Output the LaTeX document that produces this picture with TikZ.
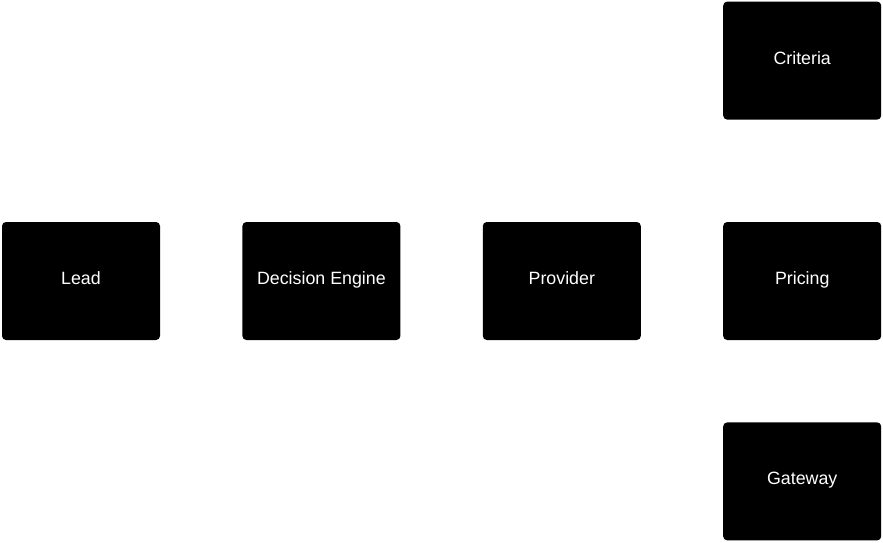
\documentclass[tikz,border=0pt]{standalone}
\usepackage{fontspec}
\setmainfont{Liberation Sans}
\usepackage{tikz}
\usetikzlibrary{positioning}
\definecolor{BoxBlack}{HTML}{000000}
\definecolor{LabelWhite}{HTML}{FFFFFF}

\tikzset{
  stagebox/.style={fill=BoxBlack, rounded corners=4pt,
    minimum width=158pt, minimum height=118pt, inner sep=0pt,
    text height=11pt, text depth=4pt,
    text=LabelWhite, font=\fontsize{17.8}{20}\selectfont}
}

\begin{document}
\begin{tikzpicture}[x=1pt, y=1pt]
  \useasboundingbox (0,0) rectangle (883,-543);
  % main row
  \node[stagebox] (lead) at (81,-281) {Lead};
  \node[stagebox, right=82pt of lead] (engine) {Decision Engine};
  \node[stagebox, right=82pt of engine] (provider) {Provider};
  \node[stagebox, right=82pt of provider] (pricing) {Pricing};
  % side column
  \node[stagebox, above=102pt of pricing] (criteria) {Criteria};
  \node[stagebox, below=82pt of pricing] (gateway) {Gateway};
\end{tikzpicture}
\end{document}
